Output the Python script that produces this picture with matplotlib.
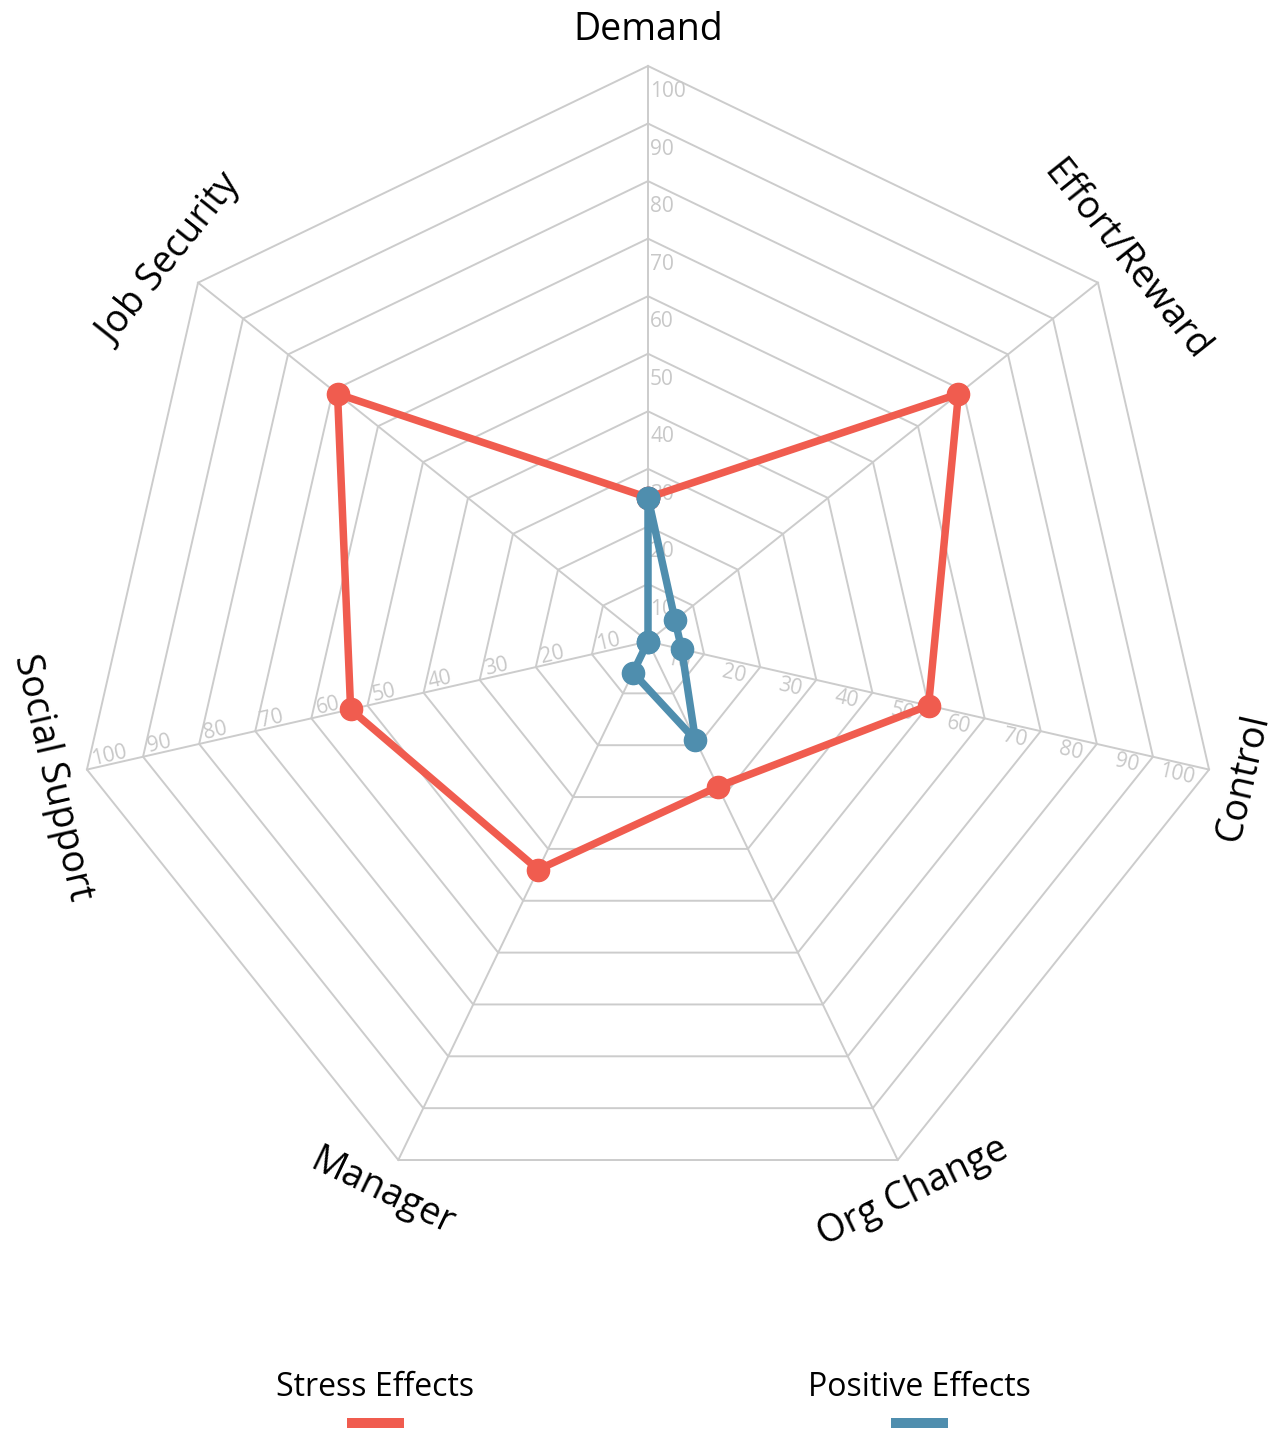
import numpy as np
import matplotlib.pyplot as plt
from matplotlib.lines import Line2D

plt.rcParams['font.family'] = ['Open Sans', 'DejaVu Sans']

# Workplace stress survey scores per dimension (0-100)
categories = ["Demand", "Effort/Reward", "Control", "Org Change",
              "Manager", "Social Support", "Job Security"]
stress_effects = [25, 69, 50, 28, 44, 53, 69]
positive_effects = [25, 6, 6, 19, 6, 0, 0]
ring_levels = [10, 20, 30, 40, 50, 60, 70, 80, 90, 100]
labelled_axes = ["Demand", "Control", "Social Support"]

RED = "#f05c4f"
BLUE = "#4f8eae"
GRID = "#cccccc"
TICK = "#c8c8c8"

W, H = 1286, 1433
fig = plt.figure(figsize=(W / 100, H / 100), dpi=100)
# polar axes centred at (648, 641.5) px, outer ring radius 575.5 px
R = 575.5
ax = fig.add_axes([(648 - R) / W, (H - 641.5 - R) / H, 2 * R / W, 2 * R / H],
                  projection="polar")
ax.set_theta_zero_location("N")
ax.set_theta_direction(-1)
ax.set_ylim(0, 100)
ax.axis("off")

n = len(categories)
angles = np.arange(n) * 2 * np.pi / n
closed = np.append(angles, angles[0])

# polygon rings and spokes
for lvl in ring_levels:
    ax.plot(closed, [lvl] * (n + 1), color=GRID, lw=1.4, zorder=1, clip_on=False)
for a in angles:
    ax.plot([a, a], [0, 100], color=GRID, lw=1.4, zorder=1, clip_on=False)

# ring value labels on three of the spokes
for name in labelled_axes:
    i = categories.index(name)
    theta_deg = np.degrees(angles[i])
    for lvl in ring_levels:
        if name == "Demand":
            ax.annotate(str(lvl), xy=(angles[i], lvl), xytext=(2, -15),
                        textcoords="offset pixels", ha="left", va="top",
                        fontsize=15, color=TICK, zorder=2)
        elif name == "Control":
            rot = 90 - theta_deg
            d = np.array([np.cos(np.radians(rot)), np.sin(np.radians(rot))])
            p = np.array([d[1], -d[0]])
            off = -12 * d + 2 * p
            ax.annotate(str(lvl), xy=(angles[i], lvl), xytext=off,
                        textcoords="offset pixels", ha="right", va="top",
                        rotation=rot, rotation_mode="anchor",
                        fontsize=15, color=TICK, zorder=2)
        else:
            rot = 90 - theta_deg + 180
            d = np.array([np.cos(np.radians(rot)), np.sin(np.radians(rot))])
            p = np.array([-d[1], d[0]])
            off = 7 * d + 3 * p
            ax.annotate(str(lvl), xy=(angles[i], lvl), xytext=off,
                        textcoords="offset pixels", ha="left", va="baseline",
                        rotation=rot, rotation_mode="anchor",
                        fontsize=15, color=TICK, zorder=2)

# category labels, rotated along the outer ring
for a, name in zip(angles, categories):
    rot = -np.degrees(a)
    while rot <= -90:
        rot += 180
    while rot > 90:
        rot -= 180
    ax.text(a, 106.2, name, rotation=rot, rotation_mode="anchor",
            ha="center", va="center", fontsize=27, color="black")

# data series
ax.plot(closed, stress_effects + stress_effects[:1], color=RED, lw=5.4,
        marker="o", markersize=16, zorder=4, clip_on=False)
ax.plot(closed, positive_effects + positive_effects[:1], color=BLUE, lw=5.4,
        marker="o", markersize=16, zorder=5, clip_on=False)

# legend: label with a short colour bar beneath
for label, color, cx in [("Stress Effects", RED, 375), ("Positive Effects", BLUE, 919)]:
    fig.text(cx / W, 1 - 1388 / H, label, ha="center", va="center",
             fontsize=23, color="black")
    fig.add_artist(Line2D([(cx - 28) / W, (cx + 29) / W], [1 - 1423 / H] * 2,
                          transform=fig.transFigure, color=color, lw=7.2,
                          solid_capstyle="butt"))

fig.savefig("out.png", dpi=100)
